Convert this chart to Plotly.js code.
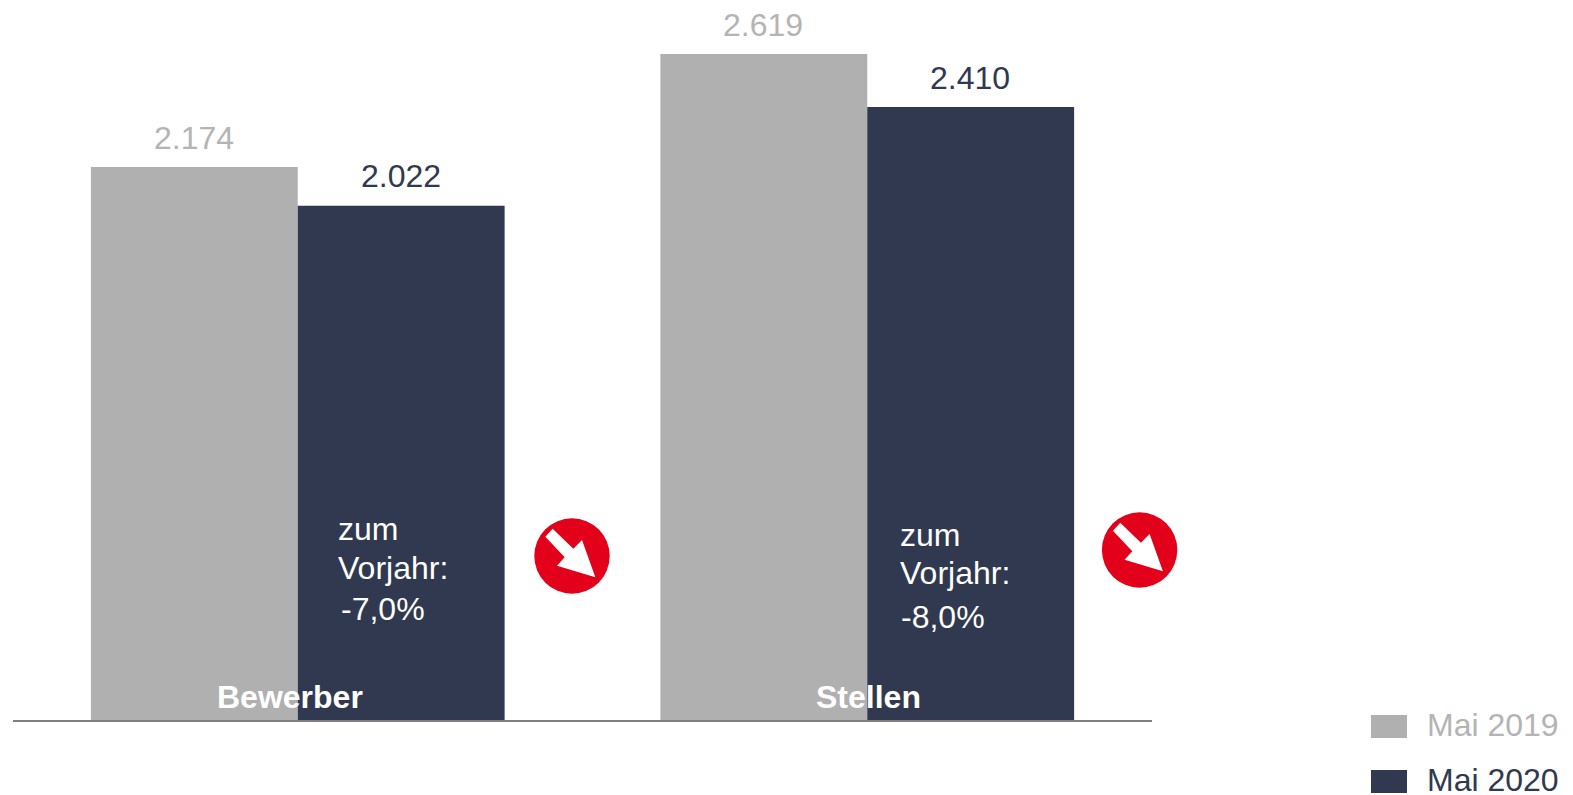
<!DOCTYPE html>
<html>
<head>
<meta charset="utf-8">
<script src="https://cdn.plot.ly/plotly-3.0.1.min.js"></script>
<style>html,body{margin:0;padding:0;background:#fff}#chart{width:1573px;height:795px}</style>
</head>
<body>
<div id="chart"></div>
<script>
var categories = ["Bewerber", "Stellen"];
var seriesNames = ["Mai 2019", "Mai 2020"];
var values2019 = [2174, 2619];
var values2020 = [2022, 2410];
var labels2019 = ["2.174", "2.619"];
var labels2020 = ["2.022", "2.410"];
var changeLabels = ["-7,0%", "-8,0%"];

var W = 1573, H = 795, ML = 13, MR = 421, MT = 0, MB = 75;
var GRAY = "#b0b0b0", GRAYTXT = "#b4b4b4", NAVY = "#30394f", RED = "#e2001a";
var FONT = "Liberation Sans, Arial, sans-serif";
function px(x){ return (x - ML) / (W - ML - MR); }
function py(y){ return 1 - (y - MT) / (H - MT - MB); }

function txt(x, y, text, color, anchor, bold){
  return {xref:"paper", yref:"paper", x:px(x), y:py(y), text: bold ? "<b>"+text+"</b>" : text,
    showarrow:false, xanchor:anchor||"left", yanchor:"middle",
    font:{family:FONT, size:32, color:color}};
}
function valueLabel(cat, val, label, color, xs, ys){
  return {xref:"x", yref:"y", x:cat, y:val, text:label, showarrow:false,
    xanchor:"center", yanchor:"bottom", xshift:xs, yshift:ys,
    font:{family:FONT, size:32, color:color}};
}
function rect(x0,y0,x1,y1,c){
  return {type:"rect", xref:"paper", yref:"paper", x0:px(x0), x1:px(x1), y0:py(y0), y1:py(y1),
    fillcolor:c, line:{width:0}, layer:"above"};
}
var arrowShape = [[-80,-58],[-58,-82],[4,-22],[30,-48],[70,64],[-45,29],[-22,4]];
function badge(cx, cy){
  var r = 37.7;
  var d = arrowShape.map(function(p,i){
    return (i?"L":"M")+px(cx+p[0]/3)+","+py(cy+p[1]/3);
  }).join(" ")+" Z";
  return [
    {type:"circle", xref:"paper", yref:"paper", x0:px(cx-r), x1:px(cx+r), y0:py(cy-r), y1:py(cy+r),
     fillcolor:RED, line:{width:0}, layer:"above"},
    {type:"path", xref:"paper", yref:"paper", path:d, fillcolor:"#ffffff", line:{width:0}, layer:"above"}
  ];
}

var traces = [
  {type:"bar", name:seriesNames[0], x:categories, y:values2019,
   marker:{color:GRAY}, hoverinfo:"skip"},
  {type:"bar", name:seriesNames[1], x:categories, y:values2020,
   marker:{color:NAVY}, hoverinfo:"skip"}
];

var annotations = [
  txt(290, 697, categories[0], "#ffffff", "center", true),
  txt(868, 697, categories[1], "#ffffff", "center", true),
  txt(336, 529, "zum", "#ffffff"),
  txt(336, 568, "Vorjahr:", "#ffffff"),
  txt(339, 609, changeLabels[0], "#ffffff"),
  txt(898, 535, "zum", "#ffffff"),
  txt(898, 573, "Vorjahr:", "#ffffff"),
  txt(899, 617, changeLabels[1], "#ffffff"),
  txt(1425, 725, seriesNames[0], GRAYTXT),
  txt(1425, 780, seriesNames[1], NAVY)
];
var shift2019 = [-103.5, -104.5];
var shift2020 = [103.5, 102.5];
var lift2020 = [10, 9];
categories.forEach(function(c,i){
  annotations.push(valueLabel(c, values2019[i], labels2019[i], GRAYTXT, shift2019[i], 9));
  annotations.push(valueLabel(c, values2020[i], labels2020[i], NAVY, shift2020[i], lift2020[i]));
});

var shapes = [
  rect(1371, 715, 1407, 738, GRAY),
  rect(1371, 770, 1407, 793, NAVY)
].concat(badge(572, 556), badge(1139.6, 550));

Plotly.newPlot("chart", traces, {
  width:W, height:H, margin:{l:ML, r:MR, t:MT, b:MB, pad:0},
  paper_bgcolor:"#ffffff", plot_bgcolor:"#ffffff",
  barmode:"group", bargap:0.2735, bargroupgap:0, showlegend:false,
  xaxis:{type:"category", range:[-0.5,1.5], showgrid:false, showticklabels:false, ticks:"",
         showline:true, linecolor:"#808080", linewidth:2, zeroline:false, fixedrange:true},
  yaxis:{range:[0,2831], visible:false, showgrid:false, zeroline:false, fixedrange:true},
  annotations:annotations, shapes:shapes
}, {displayModeBar:false, staticPlot:true});
</script>
</body>
</html>
